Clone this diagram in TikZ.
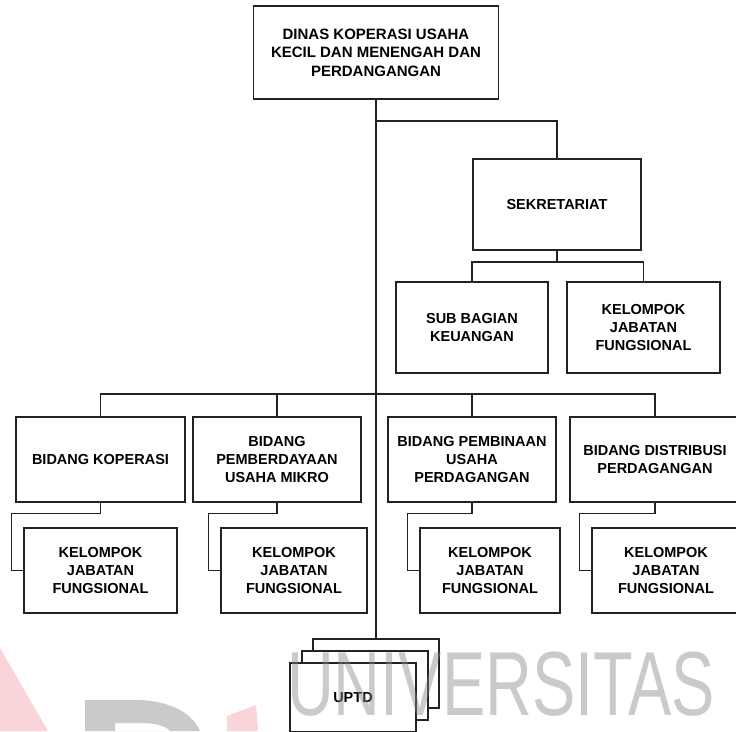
\documentclass[tikz,border=0pt]{standalone}
\usepackage{fontspec}
\setmainfont{Liberation Sans}
\definecolor{linegray}{HTML}{222222}
\definecolor{markgray}{HTML}{8A8A8A}
\definecolor{markpink}{HTML}{F2A0A8}

\begin{document}
\begin{tikzpicture}[x=1pt, y=-1pt, draw=linegray, line width=1.1pt,
  unit/.style={draw, rectangle, align=center, inner sep=2pt, font=\bfseries\fontsize{14.5}{18}\selectfont},
  wide/.style={minimum width=168pt, minimum height=85pt},
  group/.style={minimum width=#1, minimum height=85pt},
  stack/.style={draw, rectangle, fill=white, minimum width=126pt, minimum height=69pt, font=\bfseries\fontsize{14.5}{18}\selectfont}]
\useasboundingbox (0,0) rectangle (736,731);

% Head and secretariat
\node[unit, minimum width=245pt, minimum height=93pt, font=\bfseries\fontsize{15}{18.5}\selectfont] (dinas) at (376, 52.5) {DINAS KOPERASI USAHA\\KECIL DAN MENENGAH DAN\\PERDANGANGAN};
\node[unit, minimum width=168pt, minimum height=91pt] (sekre) at (557, 204.5) {SEKRETARIAT};
\node[unit, minimum width=152pt, minimum height=91pt] (subbag) at (472, 327.5) {SUB BAGIAN\\KEUANGAN};
\node[unit, minimum width=153pt, minimum height=91pt] (kjfsek) at (643.5, 327.5) {KELOMPOK\\JABATAN\\FUNGSIONAL};

% Bidang
\node[unit, wide, minimum width=169pt] (bidkop) at (100.5, 459.5) {BIDANG KOPERASI};
\node[unit, wide] (bidpem) at (277, 459.5) {BIDANG\\PEMBERDAYAAN\\USAHA MIKRO};
\node[unit, wide] (bidbin) at (472, 459.5) {BIDANG PEMBINAAN\\USAHA\\PERDAGANGAN};
\node[unit, wide, minimum width=170pt] (biddis) at (655, 459.5) {BIDANG DISTRIBUSI\\PERDAGANGAN};

% Kelompok jabatan fungsional
\node[unit, group=153pt] (kjfkop) at (100.5, 570.5) {KELOMPOK\\JABATAN\\FUNGSIONAL};
\node[unit, group=146pt] (kjfpem) at (294, 570.5) {KELOMPOK\\JABATAN\\FUNGSIONAL};
\node[unit, group=140pt] (kjfbin) at (490, 570.5) {KELOMPOK\\JABATAN\\FUNGSIONAL};
\node[unit, group=148pt] (kjfdis) at (666, 570.5) {KELOMPOK\\JABATAN\\FUNGSIONAL};

% UPTD stack
\node[stack] (uptdc) at (376, 673.5) {};
\node[stack] (uptdb) at (365, 685.5) {};
\node[stack] (uptda) at (353, 697.5) {UPTD};

% Junctions
\coordinate (jsek) at (376, 121);
\coordinate (jsub) at (557, 262);
\coordinate (jbid) at (376, 394);

% Main line
\draw (dinas) -- (uptdc);
\draw (jsek) -| (sekre);
\draw (sekre) -- (jsub);
\draw (subbag.north) |- (jsub) -| (kjfsek.north);
\draw (bidkop.north) |- (jbid) -| (biddis.north);
\draw (bidpem.north) |- (jbid);
\draw (bidbin.north) |- (jbid);

% Elbows to kelompok
\draw (bidkop.south) -- ++(0,11) -| ([xshift=-12pt]kjfkop.west) -- (kjfkop.west);
\draw (bidpem.south) -- ++(0,11) -| ([xshift=-12pt]kjfpem.west) -- (kjfpem.west);
\draw (bidbin.south) -- ++(0,11) -| ([xshift=-12pt]kjfbin.west) -- (kjfbin.west);
\draw (biddis.south) -- ++(0,11) -| ([xshift=-12pt]kjfdis.west) -- (kjfdis.west);

% Watermark
\begin{scope}[opacity=0.45]
\node[text=markgray, font=\fontsize{91}{91}\selectfont, xscale=0.713, inner sep=0pt] (mark) at (501, 684) {UNIVERSITAS};
\fill[markpink] (0,648) -- (48,731) -- (0,731) -- cycle;
\fill[markpink] (227,731) -- (227,716) -- (256,705) -- (258,731) -- cycle;
\fill[markgray, even odd rule] (85,731) -- (85,700) -- (135,700) .. controls (168,700) and (192,712) .. (200,731) -- cycle
  (115,731) -- (115,723) -- (140,723) .. controls (156,723) and (166,726) .. (170,731) -- cycle;
\end{scope}
\end{tikzpicture}
\end{document}
